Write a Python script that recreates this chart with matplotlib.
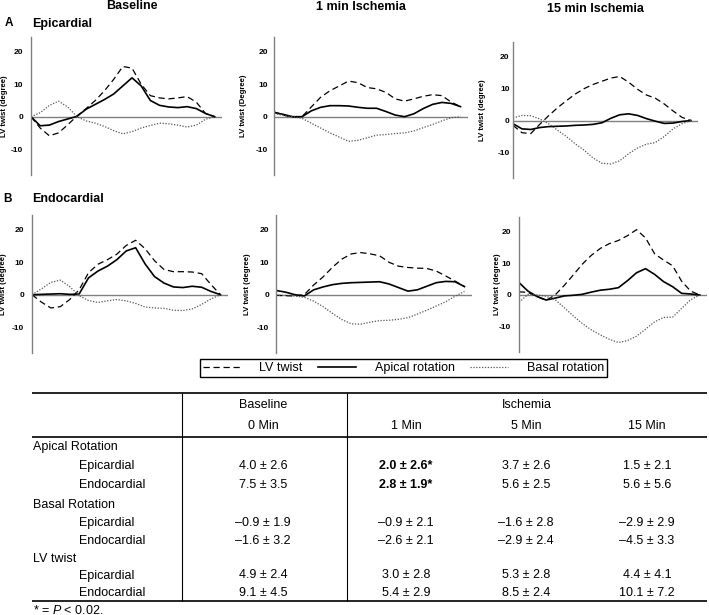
import numpy as np
import matplotlib.pyplot as plt

plt.rcParams['font.family'] = ['Liberation Sans', 'DejaVu Sans']
plt.rcParams['mathtext.fontset'] = 'custom'
plt.rcParams['mathtext.rm'] = 'Liberation Sans'
plt.rcParams['mathtext.it'] = 'Liberation Sans:italic'
plt.rcParams['axes.unicode_minus'] = False

W, H = 709, 615

# time, % of the cardiac cycle
t = np.arange(0, 101, 5)

# A - epicardial
base_epi_twist = [0, -3.5, -5.9, -5.0, -2.5, 0.2, 2.5, 5.0, 8.0, 11.5, 15.5, 15.0, 10.0, 6.5, 5.8, 5.5, 5.8, 6.2, 4.5, 1.0, 0]
base_epi_apical = [0, -2.8, -2.6, -1.5, -0.7, 0.1, 2.3, 3.8, 5.3, 7.0, 9.5, 12.0, 9.5, 5.0, 3.5, 3.0, 2.8, 3.1, 2.5, 1.0, 0]
base_epi_basal = [0, 1.2, 3.5, 4.8, 3.0, 0, -1.3, -2.0, -3.0, -4.3, -5.3, -4.6, -3.5, -2.7, -2.0, -2.2, -2.6, -3.2, -2.6, -0.8, 0]

isch1_epi_twist = [1.5, 0.5, -0.2, 0, 3.0, 6.0, 8.0, 9.5, 11.0, 10.5, 9.0, 8.6, 7.5, 5.5, 4.8, 5.5, 6.3, 6.8, 6.5, 4.5, 3.1]
isch1_epi_apical = [1.3, 0.7, 0, 0, 1.8, 2.9, 3.4, 3.4, 3.3, 2.9, 2.6, 2.6, 1.6, 0.5, 0, 0.9, 2.5, 3.8, 4.4, 4.1, 3.1]
isch1_epi_basal = [1.0, 0.4, 0, -0.5, -2.0, -3.5, -5.0, -6.3, -7.6, -7.3, -6.5, -5.7, -5.5, -5.2, -5.0, -4.4, -3.4, -2.4, -1.3, -0.3, 0]

isch15_epi_twist = [-1.5, -3.8, -4.1, -1.2, 1.5, 4.0, 6.2, 8.3, 10.0, 11.3, 12.3, 13.3, 13.8, 12.0, 9.8, 8.0, 7.0, 5.2, 3.0, 1.0, 0]
isch15_epi_apical = [-1.0, -2.6, -2.8, -2.2, -1.9, -1.8, -1.7, -1.5, -1.4, -1.2, -0.7, 0.7, 1.8, 2.1, 1.6, 0.6, -0.2, -0.9, -0.8, -0.3, 0]
isch15_epi_basal = [0.8, 1.6, 1.5, 0.5, -1.0, -3.0, -5.0, -7.3, -9.3, -11.7, -13.4, -13.6, -12.6, -10.4, -8.6, -7.4, -6.9, -5.0, -2.6, -1.0, 0]

# B - endocardial
base_endo_twist = [0, -2.3, -4.1, -3.7, -1.5, 1.5, 6.8, 9.4, 10.8, 12.5, 15.2, 16.8, 14.2, 10.5, 7.8, 7.1, 7.1, 7.0, 6.5, 3.1, 0]
base_endo_apical = [0, 0.1, 0.2, 0.3, 0.1, 0.2, 5.2, 7.3, 8.8, 10.8, 13.5, 14.5, 9.5, 5.6, 3.6, 2.4, 2.2, 2.6, 2.3, 1.0, 0]
base_endo_basal = [0, 1.8, 3.8, 4.5, 2.5, -0.3, -1.8, -2.4, -1.9, -1.5, -1.9, -2.7, -3.8, -4.1, -4.2, -4.8, -4.9, -4.4, -3.0, -1.3, 0]

isch1_endo_twist = [-0.2, -0.3, -0.4, 0, 3.0, 5.5, 8.5, 11.0, 12.6, 13.0, 12.6, 12.0, 10.0, 8.8, 8.4, 8.2, 8.1, 7.3, 5.8, 4.2, 2.5]
isch1_endo_apical = [1.3, 0.8, 0, -0.4, 1.5, 2.4, 3.1, 3.5, 3.7, 3.8, 3.9, 4.0, 3.3, 2.2, 1.1, 1.5, 2.6, 3.7, 4.1, 4.0, 2.5]
isch1_endo_basal = [-0.2, -0.2, -0.4, -0.8, -2.0, -3.7, -5.8, -7.7, -9.0, -9.1, -8.5, -8.0, -7.9, -7.6, -7.1, -6.0, -4.8, -3.5, -2.2, -0.5, 1.0]

isch15_endo_twist = [1.0, 0.8, -0.5, -1.7, 0, 3.0, 6.3, 9.7, 12.5, 14.7, 16.2, 17.2, 18.7, 20.6, 18.0, 13.0, 11.0, 9.2, 4.3, 1.2, 0]
isch15_endo_apical = [3.9, 1.2, -0.5, -1.6, -1.0, -0.3, -0.1, 0.2, 0.9, 1.5, 1.8, 2.3, 4.5, 7.0, 8.3, 6.5, 4.2, 2.6, 0.5, 0.3, 0]
isch15_endo_basal = [-2.3, 0.2, 0, -0.4, -1.5, -4.0, -6.6, -9.0, -11.0, -12.6, -14.0, -15.0, -14.4, -13.0, -10.8, -8.5, -7.1, -7.0, -4.2, -1.5, 0]

col_titles = ["Baseline", "1 min Ischemia", "15 min Ischemia"]
row_letters = ["A", "B"]
row_titles = ["Epicardial", "Endocardial"]
y_labels = ["LV twist (degree)", "LV twist (Degree)", "LV twist (degree)",
            "LV twist (degree)", "LV twist (degree)", "LV twist (degree)"]
y_ticks = [-10, 0, 10, 20]
legend_labels = ["LV twist", "Apical rotation", "Basal rotation"]

# table
tbl_groups = ["Apical Rotation", "Basal Rotation", "LV twist"]
tbl_layers = ["Epicardial", "Endocardial"]
tbl_times = ["0 Min", "1 Min", "5 Min", "15 Min"]
apical_epi = [(4.0, 2.6), (2.0, 2.6), (3.7, 2.6), (1.5, 2.1)]
apical_endo = [(7.5, 3.5), (2.8, 1.9), (5.6, 2.5), (5.6, 5.6)]
basal_epi = [(-0.9, 1.9), (-0.9, 2.1), (-1.6, 2.8), (-2.9, 2.9)]
basal_endo = [(-1.6, 3.2), (-2.6, 2.1), (-2.9, 2.4), (-4.5, 3.3)]
twist_epi = [(4.9, 2.4), (3.0, 2.8), (5.3, 2.8), (4.4, 4.1)]
twist_endo = [(9.1, 4.5), (5.4, 2.9), (8.5, 2.4), (10.1, 7.2)]
significant = [(0, 1), (1, 1)]  # (row, column) with P < 0.02

panels = [
    (base_epi_twist, base_epi_apical, base_epi_basal),
    (isch1_epi_twist, isch1_epi_apical, isch1_epi_basal),
    (isch15_epi_twist, isch15_epi_apical, isch15_epi_basal),
    (base_endo_twist, base_endo_apical, base_endo_basal),
    (isch1_endo_twist, isch1_endo_apical, isch1_endo_basal),
    (isch15_endo_twist, isch15_endo_apical, isch15_endo_basal),
]

# panel boxes in pixels: left, top, right, bottom
boxes = [(31, 37, 222, 175), (274, 37, 468, 175), (513, 42, 698, 178),
         (32, 215, 228, 353), (276, 215, 472, 353), (519, 217, 707, 352)]
tick_pads = [5.5, 4.5, 2.5, 5.5, 5.0, 5.5]
label_off = [23, 27, 27, 25, 25, 18]


def frac(l, tp, r, b):
    return [l / W, 1 - b / H, (r - l) / W, (b - tp) / H]


fig = plt.figure(figsize=(W / 100, H / 100), dpi=100)

overlay = fig.add_axes([0, 0, 1, 1])
overlay.set_xlim(0, W)
overlay.set_ylim(H, 0)
overlay.axis('off')

handles = None
for i, (twist, apical, basal) in enumerate(panels):
    l, tp, r, b = boxes[i]
    ax = fig.add_axes(frac(l, tp, r, b))
    ax.patch.set_alpha(0)
    h1, = ax.plot(t, twist, color='black', lw=0.9, dashes=(5, 3))
    h2, = ax.plot(t, apical, color='black', lw=1.2)
    h3, = ax.plot(t, basal, color='#555555', lw=0.9, ls=(0, (1, 1.3)))
    if handles is None:
        handles = [h1, h2, h3]
    ax.axhline(0, color='#808080', lw=1.0, zorder=0)
    ax.set_xlim(0, 104)
    ax.set_ylim(-18, 24.6)
    ax.set_xticks([])
    ax.set_yticks(y_ticks)
    ax.tick_params(axis='y', length=0, pad=tick_pads[i], labelsize=6)
    for lab in ax.get_yticklabels():
        lab.set_fontweight('bold')
    for s in ['top', 'right', 'bottom']:
        ax.spines[s].set_visible(False)
    ax.spines['left'].set_color('#808080')
    ax.spines['left'].set_linewidth(1.0)
    ax.set_ylabel(y_labels[i], fontsize=5.6, fontweight='bold')
    ax.yaxis.set_label_coords(-label_off[i] / (r - l), 0.5)

# column and row titles
for title, x, y in zip(col_titles, [132, 361, 595], [6, 7.5, 9]):
    overlay.text(x, y, title, fontsize=9, fontweight='bold', ha='center', va='center')
for letter, title, x0, y in zip(row_letters, row_titles, [9, 7], [23.5, 199.5]):
    overlay.text(x0, y, letter, fontsize=8.5, fontweight='bold', ha='center', va='center')
    overlay.text(32.5, y, title, fontsize=9, fontweight='bold', ha='left', va='center')

leg = fig.legend(handles, legend_labels, loc='center', ncol=3, mode='expand',
                 bbox_to_anchor=(200 / W, 1 - 378 / H, 407 / W, 20 / H),
                 borderaxespad=0, borderpad=0.25, handlelength=3.0, handletextpad=1.5,
                 columnspacing=1.0, fontsize=9, frameon=True, fancybox=False,
                 edgecolor='black', framealpha=1)
leg.get_frame().set_linewidth(1.0)

# table
overlay.hlines([393, 437, 601], 32, 707, color='black', lw=1.2)
overlay.vlines([182, 347], 393, 601, color='black', lw=0.8)
overlay.text(263, 405, "Baseline", fontsize=9, ha='center', va='center')
overlay.text(527, 405, "Ischemia", fontsize=9, ha='center', va='center')
col_x = [263, 406, 526, 647]
for x, lab in zip(col_x, tbl_times):
    overlay.text(x, 426, lab, fontsize=9, ha='center', va='center')

group_y = [447, 505, 558.5]
sub_y = [[466, 485.5], [523, 540.5], [575.5, 592.5]]
rows = [apical_epi, apical_endo, basal_epi, basal_endo, twist_epi, twist_endo]
for g, name in enumerate(tbl_groups):
    overlay.text(33, group_y[g], name, fontsize=9, ha='left', va='center')
    for k, layer in enumerate(tbl_layers):
        y = sub_y[g][k]
        overlay.text(79, y, layer, fontsize=9, ha='left', va='center')
        row = rows[2 * g + k]
        for c, (m, sd) in enumerate(row):
            txt = "{:.1f} \u00b1 {:.1f}".format(m, sd).replace('-', '\u2013')
            bold = (2 * g + k, c) in significant
            if bold:
                txt += "*"
            overlay.text(col_x[c], y, txt, fontsize=9, ha='center', va='center',
                         fontweight='bold' if bold else 'normal')

overlay.text(33, 610, "* = $P$ < 0.02.", fontsize=9, ha='left', va='center')

fig.savefig("out.png", dpi=100)
